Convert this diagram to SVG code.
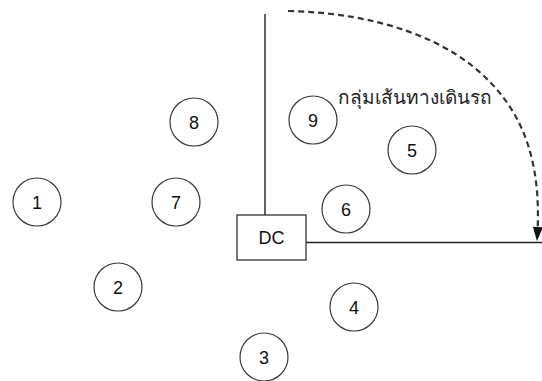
<svg xmlns="http://www.w3.org/2000/svg" width="542" height="381" viewBox="0 0 542 381">
<style>
.n circle{fill:#fff;stroke:#3a3a3a;stroke-width:1.2}
.n text,.lbl{font-family:"Liberation Sans",Arial,sans-serif;font-size:18px;fill:#111;text-anchor:middle}
.ln{stroke:#222;stroke-width:1.4;fill:none}
.th{font-family:"Noto Sans","DejaVu Sans","Liberation Sans",sans-serif;font-size:19px;fill:#222}
</style>
<defs>
<marker id="ah" viewBox="0 0 14 10" refX="13" refY="5" markerWidth="14" markerHeight="10" markerUnits="userSpaceOnUse" orient="auto" overflow="visible">
<path d="M0,0 L14,5 L0,10 z" fill="#111"/>
</marker>
</defs>
<rect width="542" height="381" fill="#fff"/>
<g id="connectors">
<line class="ln" x1="265" y1="14" x2="265" y2="215"/>
<line class="ln" x1="306" y1="242.5" x2="542" y2="242.5"/>
<path d="M288,11 C380,13 450,40 490,82 C527,120 542,170 537,240" fill="none" stroke="#333" stroke-width="2.2" stroke-dasharray="6,4" marker-end="url(#ah)"/>
</g>
<text class="th" x="338" y="104">กลุ่มเส้นทางเดินรถ</text>
<g id="dc">
<rect x="237" y="215" width="69" height="45" fill="#fff" stroke="#222" stroke-width="1.2"/>
<text class="lbl" x="271.5" y="244">DC</text>
</g>
<g id="n1" class="n"><circle cx="37" cy="202" r="24"/><text x="37" y="208.5">1</text></g>
<g id="n2" class="n"><circle cx="118" cy="287" r="24"/><text x="118" y="293.5">2</text></g>
<g id="n3" class="n"><circle cx="264" cy="357" r="24"/><text x="264" y="363.5">3</text></g>
<g id="n4" class="n"><circle cx="354" cy="307" r="24"/><text x="354" y="313.5">4</text></g>
<g id="n5" class="n"><circle cx="412" cy="150" r="24"/><text x="412" y="156.5">5</text></g>
<g id="n6" class="n"><circle cx="346" cy="209" r="24"/><text x="346" y="215.5">6</text></g>
<g id="n7" class="n"><circle cx="176" cy="202" r="24"/><text x="176" y="208.5">7</text></g>
<g id="n8" class="n"><circle cx="194" cy="122" r="24"/><text x="194" y="128.5">8</text></g>
<g id="n9" class="n"><circle cx="313" cy="120" r="24"/><text x="313" y="126.5">9</text></g>
</svg>
